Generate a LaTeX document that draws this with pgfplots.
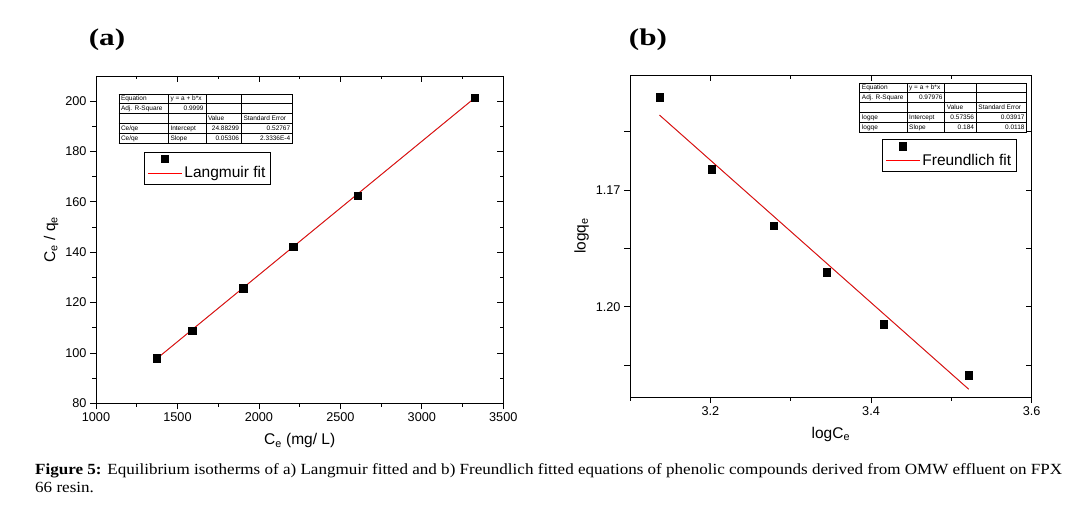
\documentclass[border=0pt]{standalone}
\usepackage{pgfplots}
\pgfplotsset{compat=1.18}
\usepackage{fontspec}
\usepackage{array}
\setmainfont{Liberation Sans}
\newfontfamily\serif{Liberation Serif}

\pgfplotsset{
  base/.style={
    scale only axis,
    axis line style={line width=0.8pt},
    every tick/.style={black, line width=0.8pt},
    major tick length=6pt, minor tick length=3.5pt,
  },
  main/.style={
    base, tick align=outside, xtick pos=left, ytick pos=left,
    /pgf/number format/assume math mode=true,
    /pgf/number format/1000 sep={},
    tick label style={font=\fontsize{12.7}{15}\selectfont},
    label style={font=\fontsize{15.5}{18}\selectfont},
    xlabel style={yshift=-5pt},
    legend cell align=left,
    legend style={draw=black, line width=0.8pt, anchor=north west,
      font=\fontsize{15.5}{18}\selectfont, inner xsep=3pt, inner ysep=3pt,
      /tikz/row sep=2pt},
  },
  mirror/.style={
    base, tick align=inside, xtick pos=right, ytick pos=right,
    xticklabel style={opacity=0}, yticklabel style={opacity=0},
  },
  dots/.style={only marks, mark=square*, mark size=3.6pt, black,
    legend image code/.code={\draw[mark repeat=2,mark phase=2,##1]
      plot coordinates {(0pt,0pt)(17pt,0pt)(34pt,0pt)};}},
  fit/.style={red, line width=0.7pt,
    legend image code/.code={\draw[##1] (0pt,0pt) -- (34pt,0pt);}},
}

\newcommand{\tbl}[8]{%
  {\fontsize{6.5}{9.4}\selectfont\setlength{\tabcolsep}{2pt}\setlength{\arrayrulewidth}{0.5pt}%
  \begin{tabular}{|p{#1}|p{#2}|p{#3}|p{#4}|}
  \hline
  Equation & y = a + b*x & & \\ \hline
  Adj. R-Square & \hfill #5 & & \\ \hline
  & & Value & Standard Error \\ \hline
  #6 & Intercept & \hfill #7 \\ \hline
  #6 & Slope & \hfill #8 \\ \hline
  \end{tabular}}}

\begin{document}
\begin{tikzpicture}
\path[use as bounding box] (0pt,0pt) rectangle (1077pt,507pt);

% (a) Langmuir
\begin{axis}[main, at={(96pt,103.7pt)}, anchor=south west,
  width=407.3pt, height=327.3pt,
  xmin=1000, xmax=3500, ymin=80, ymax=210,
  xtick={1000,1500,...,3500}, ytick={80,100,...,200},
  minor x tick num=1, minor y tick num=1,
  xlabel={C\textsubscript{e} (mg/ L)},
  ylabel={C\textsubscript{e} / q\textsubscript{e}},
  legend style={at={(0.1186,0.768)}},
]
\addplot[dots] coordinates {
  (1372,97.9) (1591,108.8) (1904,125.7) (2211,142.3) (2604,162.3) (3322,201.3)
};
\addlegendentry{}
\addplot[gray, line width=0.9pt, forget plot] coordinates {(1372,97.68) (3322,201.15)};
\addplot[fit] coordinates {(1372,97.68) (3322,201.15)};
\addlegendentry{Langmuir fit}
\node[anchor=north west, inner sep=0pt] at (axis description cs:0.0548,0.947)
  {\tbl{45pt}{33pt}{31pt}{46.7pt}{0.9999}{Ce/qe}{24.88299 & \hfill 0.52767}{0.05306 & \hfill 2.3336E-4}};
\end{axis}
\begin{axis}[mirror, at={(96pt,103.7pt)}, anchor=south west,
  width=407.3pt, height=327.3pt,
  xmin=1000, xmax=3500, ymin=80, ymax=210,
  xtick={1000,1500,...,3500}, ytick={80,100,...,200},
  minor x tick num=1, minor y tick num=1]
\end{axis}

% (b) Freundlich
\begin{axis}[main, at={(630pt,110pt)}, anchor=south west,
  width=401.7pt, height=322pt,
  xmin=3.1, xmax=3.6, ymin=1.1404, ymax=1.2232, y dir=reverse,
  xtick={3.2,3.4,3.6}, minor xtick={3.1,3.3,3.5},
  ytick={1.155,1.17,1.185,1.2,1.215}, yticklabels={,1.17,,1.20,},
  xlabel={logC\textsubscript{e}},
  ylabel={logq\textsubscript{e}},
  legend style={at={(0.628,0.800)}},
]
\addplot[dots] coordinates {
  (3.1365,1.1461) (3.2013,1.1646) (3.2790,1.1791) (3.3446,1.1911) (3.4157,1.2045) (3.5216,1.2176)
};
\addlegendentry{}
\addplot[gray, line width=0.9pt, forget plot] coordinates {(3.1367,1.1507) (3.5216,1.2212)};
\addplot[fit] coordinates {(3.1367,1.1507) (3.5216,1.2212)};
\addlegendentry{Freundlich fit}
\node[anchor=north west, inner sep=0pt] at (axis description cs:0.5708,0.9773)
  {\tbl{42.7pt}{33.3pt}{27pt}{46pt}{0.97976}{logqe}{0.57356 & \hfill 0.03917}{0.184 & \hfill 0.0118}};
\end{axis}
\begin{axis}[mirror, at={(630pt,110pt)}, anchor=south west,
  width=401.7pt, height=322pt,
  xmin=3.1, xmax=3.6, ymin=1.1404, ymax=1.2232, y dir=reverse,
  xtick={3.2,3.4,3.6}, minor xtick={3.1,3.3,3.5},
  ytick={1.155,1.17,1.185,1.2,1.215}]
\end{axis}

\node[anchor=center, font=\serif\bfseries\fontsize{24}{28}\selectfont, xscale=1.3] at (107pt,467pt) {(a)};
\node[anchor=center, font=\serif\bfseries\fontsize{24}{28}\selectfont, xscale=1.3] at (648pt,467pt) {(b)};

\node[anchor=base west, inner sep=0pt, font=\serif\fontsize{15.5}{18.6}\selectfont, xscale=1.1] at (35pt,33pt)
  {\textbf{Figure 5:} Equilibrium isotherms of a) Langmuir fitted and b) Freundlich fitted equations of phenolic compounds derived from OMW effluent on FPX};
\node[anchor=base west, inner sep=0pt, font=\serif\fontsize{15.5}{18.6}\selectfont, xscale=1.1] at (35pt,15pt)
  {66 resin.};
\end{tikzpicture}
\end{document}
